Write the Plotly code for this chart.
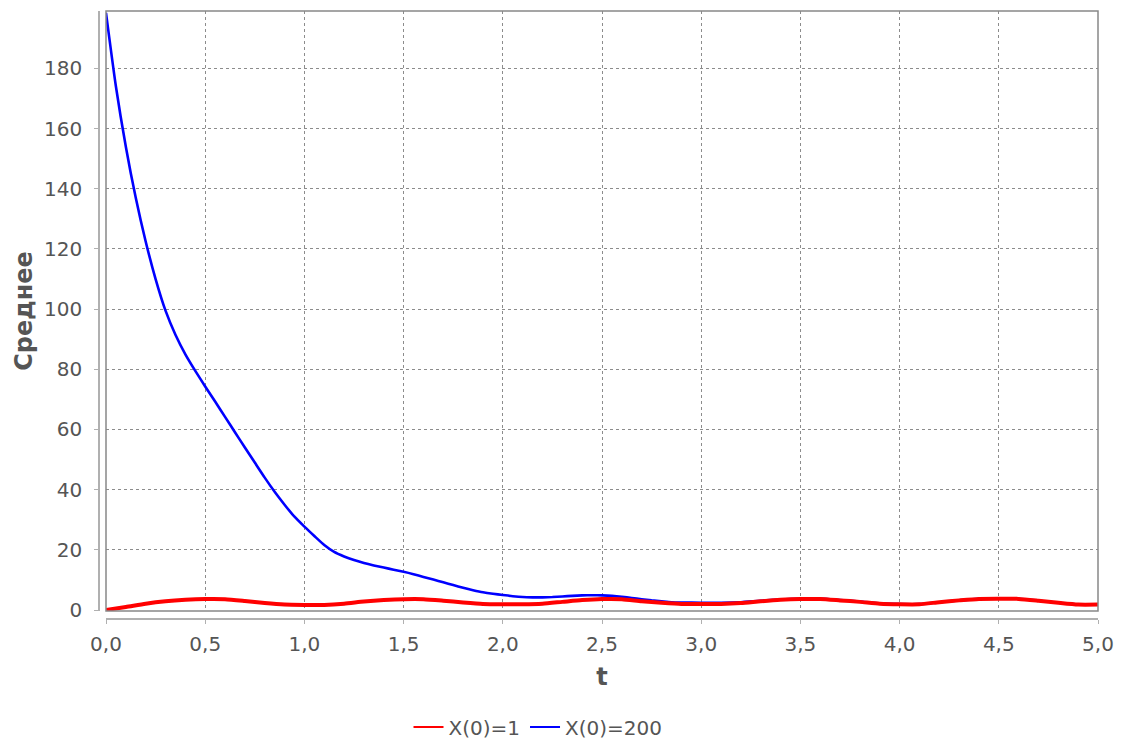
import plotly.graph_objects as go

# Time grid and mean trajectories for the two initial conditions
t_blue = [0.00, 0.05, 0.10, 0.15, 0.20, 0.25, 0.30, 0.35, 0.40, 0.45,
          0.50, 0.55, 0.60, 0.65, 0.70, 0.75, 0.80, 0.85, 0.90, 0.95,
          1.00, 1.05, 1.10, 1.15, 1.20, 1.25, 1.30, 1.35, 1.40, 1.45,
          1.50, 1.55, 1.60, 1.65, 1.70, 1.75, 1.80, 1.85, 1.90, 1.95,
          2.00, 2.05, 2.10, 2.15, 2.20, 2.25, 2.30, 2.35, 2.40, 2.45,
          2.50, 2.55, 2.60, 2.65, 2.70, 2.75, 2.80, 2.85, 2.90,
          3.0, 3.1, 3.2, 3.3, 3.4, 3.5, 3.6, 3.7, 3.8, 3.9,
          4.0, 4.1, 4.2, 4.3, 4.4, 4.5, 4.6, 4.7, 4.8, 4.9, 5.0]
mean_x200 = [198.5, 174.0, 154.0, 137.0, 122.5, 110.0, 99.5, 91.5, 85.0, 79.5,
             74.3, 69.3, 64.2, 59.1, 54.0, 49.0, 44.0, 39.3, 35.0, 31.0,
             27.7, 24.6, 21.6, 19.3, 17.8, 16.6, 15.6, 14.8, 14.1, 13.4,
             12.7, 11.9, 11.0, 10.1, 9.2, 8.3, 7.4, 6.6, 5.9, 5.4,
             5.0, 4.6, 4.3, 4.2, 4.2, 4.3, 4.5, 4.7, 4.85, 4.9,
             4.85, 4.7, 4.4, 4.0, 3.6, 3.2, 2.9, 2.6, 2.5,
             2.4, 2.4, 2.6, 3.1, 3.5, 3.7, 3.7, 3.3, 2.8, 2.2,
             1.95, 1.95, 2.6, 3.2, 3.7, 3.8, 3.75, 3.1, 2.4, 1.85, 1.8]

t_red = [0.0, 0.1, 0.2, 0.3, 0.4, 0.5, 0.6, 0.7, 0.8, 0.9,
         1.0, 1.1, 1.2, 1.3, 1.4, 1.5, 1.6, 1.7, 1.8, 1.9,
         2.0, 2.1, 2.2, 2.3, 2.4, 2.5, 2.6, 2.7, 2.8, 2.9,
         3.0, 3.1, 3.2, 3.3, 3.4, 3.5, 3.6, 3.7, 3.8, 3.9,
         4.0, 4.1, 4.2, 4.3, 4.4, 4.5, 4.6, 4.7, 4.8, 4.9, 5.0]
mean_x1 = [0.0, 1.0, 2.1, 2.9, 3.4, 3.65, 3.6, 3.0, 2.3, 1.8,
           1.7, 1.7, 2.1, 2.8, 3.3, 3.6, 3.6, 3.1, 2.5, 2.0,
           1.9, 1.9, 2.1, 2.7, 3.3, 3.65, 3.6, 2.9, 2.4, 2.0,
           2.0, 2.0, 2.3, 2.9, 3.4, 3.65, 3.65, 3.2, 2.7, 2.1,
           1.9, 1.9, 2.6, 3.2, 3.7, 3.75, 3.7, 3.1, 2.4, 1.8, 1.8]

series_names = ["X(0)=1", "X(0)=200"]
series_colors = ["#ff0000", "#0000ff"]

x_ticks = [0.0, 0.5, 1.0, 1.5, 2.0, 2.5, 3.0, 3.5, 4.0, 4.5, 5.0]
y_ticks = [0, 20, 40, 60, 80, 100, 120, 140, 160, 180]

FONT = "DejaVu Sans"
TICK_COLOR = "#555555"

fig = go.Figure()

# Blue first so the red series is rendered on top
fig.add_trace(go.Scatter(x=t_blue, y=mean_x200, mode="lines",
                         line=dict(color=series_colors[1], width=2.6, shape="spline", smoothing=0.6),
                         showlegend=False, hoverinfo="skip"))
fig.add_trace(go.Scatter(x=t_red, y=mean_x1, mode="lines",
                         line=dict(color=series_colors[0], width=4, shape="spline", smoothing=0.6),
                         showlegend=False, hoverinfo="skip"))

# Thin legend entries
for name, color in zip(series_names, series_colors):
    fig.add_trace(go.Scatter(x=[None], y=[None], mode="lines", name=name,
                             line=dict(color=color, width=2)))

W, H = 1126, 744
ML, MR, MT, MB = 99, 28, 11, 125
paper_w = W - ML - MR
paper_h = H - MT - MB

fig.update_layout(
    width=W, height=H,
    margin=dict(l=ML, r=MR, t=MT, b=MB, pad=0, autoexpand=False),
    paper_bgcolor="white", plot_bgcolor="white",
    separators=", ",
    font=dict(family=FONT, size=20, color=TICK_COLOR),
    showlegend=True,
    legend=dict(orientation="h", x=(538 - ML) / paper_w, xanchor="center",
                y=-(727 - (H - MB)) / paper_h, yanchor="middle",
                font=dict(family=FONT, size=20, color=TICK_COLOR),
                itemwidth=30, tracegroupgap=0, bgcolor="rgba(0,0,0,0)"),
    xaxis=dict(
        domain=[7 / paper_w, 1], anchor="free", position=0,
        range=[0, 5], tickvals=x_ticks, tickformat=".1f",
        showline=True, linecolor="#b0b0b0", linewidth=1.5,
        ticks="outside", ticklen=4, tickcolor="#b0b0b0", ticklabelstandoff=3,
        showgrid=True, gridcolor="#8c8c8c", gridwidth=1, griddash="3px,3px",
        zeroline=False,
        title=dict(text="<b>t</b>", font=dict(family=FONT, size=24, color=TICK_COLOR), standoff=12),
    ),
    yaxis=dict(
        domain=[8 / paper_h, 1], anchor="free", position=0,
        range=[-0.33, 199.1], tickvals=y_ticks,
        showline=True, linecolor="#b0b0b0", linewidth=1.5,
        ticks="outside", ticklen=4, tickcolor="#b0b0b0", ticklabelstandoff=8,
        showgrid=True, gridcolor="#8c8c8c", gridwidth=1, griddash="3px,3px",
        zeroline=False,
        title=dict(text="<b>Среднее</b>", font=dict(family=FONT, size=24, color=TICK_COLOR), standoff=4),
    ),
)

# Plot-area outline
fig.add_shape(type="rect", xref="x domain", yref="y domain", x0=0, x1=1, y0=0, y1=1,
              line=dict(color="#888888", width=1.5), layer="above")

fig.write_html("out.html")
